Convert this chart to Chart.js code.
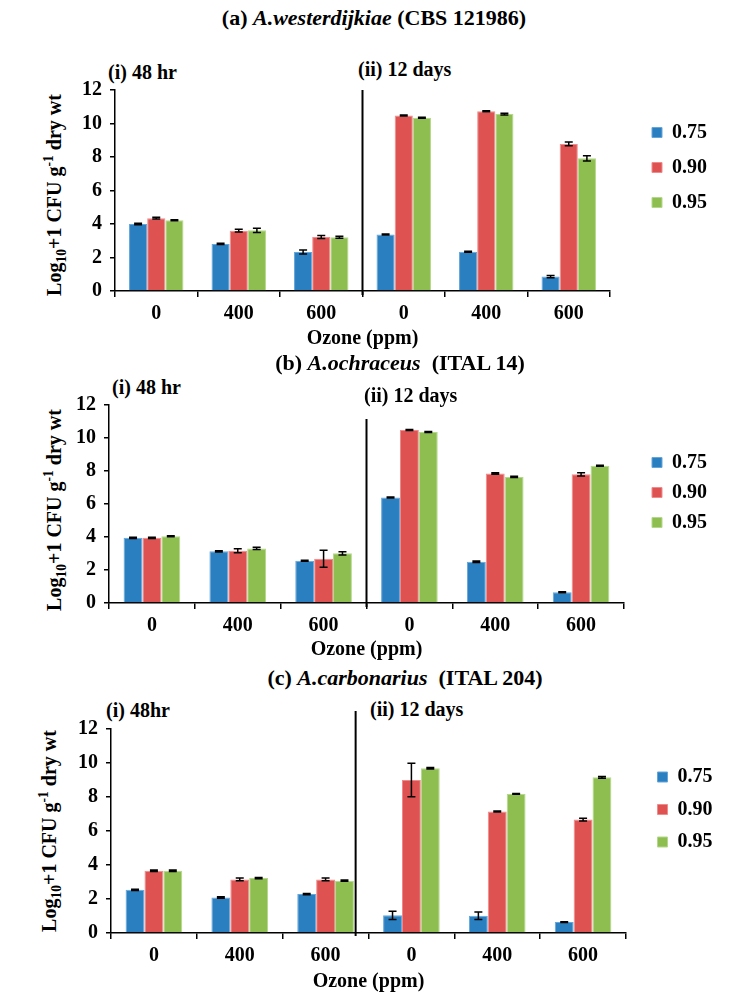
<!DOCTYPE html>
<html>
<head>
<meta charset="utf-8">
<script src="https://cdn.jsdelivr.net/npm/chart.js@4.4.1/dist/chart.umd.min.js"></script>
<style>
  body { margin: 0; background: #fff; }
  #page { position: relative; width: 744px; height: 1002px; overflow: hidden;
          font-family: "Liberation Serif", "Times New Roman", serif; font-weight: bold; color: #000; }
  #page canvas { position: absolute; left: 0; }
  .ptitle { position: absolute; font-size: 22px; line-height: 26px; white-space: nowrap; transform: translateX(-50%); }
  .sub { position: absolute; font-size: 20px; line-height: 24px; white-space: nowrap; }
  .ytitle { position: absolute; width: 260px; font-size: 20px; line-height: 24px; text-align: center;
            white-space: nowrap; transform: rotate(-90deg); }
  .ytitle sub, .ytitle sup { font-size: 0.68em; line-height: 0; }
</style>
</head>
<body>
<div id="page">
  <div class="ptitle" style="left:374px;top:5px">(a) <i>A.westerdijkiae</i> (CBS 121986)</div>
  <div class="sub" style="left:108px;top:60px">(i) 48 hr</div>
  <div class="sub" style="left:358px;top:57px">(ii) 12 days</div>
  <div class="ytitle" style="left:-76px;top:183px">Log<sub>10</sub>+1 CFU g<sup>-1</sup> dry wt</div>
  <canvas id="chartA" width="744" height="281" style="top:70px"></canvas>

  <div class="ptitle" style="left:400px;top:350px">(b) <i>A.ochraceus</i>&nbsp; (ITAL 14)</div>
  <div class="sub" style="left:112px;top:375px">(i) 48 hr</div>
  <div class="sub" style="left:364px;top:383px">(ii) 12 days</div>
  <div class="ytitle" style="left:-76px;top:498px">Log<sub>10</sub>+1 CFU g<sup>-1</sup> dry wt</div>
  <canvas id="chartB" width="744" height="277" style="top:385px"></canvas>

  <div class="ptitle" style="left:405px;top:665px">(c) <i>A.carbonarius</i>&nbsp; (ITAL 204)</div>
  <div class="sub" style="left:106px;top:698px">(i) 48hr</div>
  <div class="sub" style="left:370px;top:697px">(ii) 12 days</div>
  <div class="ytitle" style="left:-81px;top:819px">Log<sub>10</sub>+1 CFU g<sup>-1</sup> dry wt</div>
  <canvas id="chartC" width="744" height="289" style="top:705px"></canvas>
</div>

<script>
// x categories: ozone dose, first three after 48 hr, last three after 12 days
const categories = ['0', '400', '600', '0', '400', '600'];
// water activity levels
const seriesNames = ['0.75', '0.90', '0.95'];
const yTicks = [0, 2, 4, 6, 8, 10, 12];

// (a) A.westerdijkiae
const aw075 = [4.00, 2.81, 2.33, 3.37, 2.35, 0.86];
const aw090 = [4.35, 3.60, 3.22, 10.48, 10.73, 8.78];
const aw095 = [4.22, 3.62, 3.21, 10.34, 10.56, 7.92];
const aw075Err = [0.04, 0.04, 0.12, 0.03, 0.03, 0.07];
const aw090Err = [0.05, 0.08, 0.09, 0.03, 0.03, 0.11];
const aw095Err = [0.03, 0.12, 0.06, 0.03, 0.05, 0.16];

// (b) A.ochraceus
const ao075 = [3.95, 3.13, 2.56, 6.40, 2.50, 0.65];
const ao090 = [3.95, 3.17, 2.68, 10.49, 7.85, 7.80];
const ao095 = [4.04, 3.31, 3.01, 10.37, 7.64, 8.32];
const ao075Err = [0.04, 0.04, 0.03, 0.03, 0.04, 0.03];
const ao090Err = [0.04, 0.12, 0.52, 0.03, 0.04, 0.10];
const ao095Err = [0.03, 0.07, 0.10, 0.03, 0.04, 0.03];

// (c) A.carbonarius
const ac075 = [2.54, 2.09, 2.29, 1.04, 1.02, 0.64];
const ac090 = [3.66, 3.15, 3.15, 9.00, 7.15, 6.67];
const ac095 = [3.66, 3.23, 3.08, 9.69, 8.18, 9.16];
const ac075Err = [0.04, 0.04, 0.04, 0.24, 0.22, 0.02];
const ac090Err = [0.04, 0.08, 0.08, 0.98, 0.03, 0.08];
const ac095Err = [0.04, 0.04, 0.04, 0.05, 0.02, 0.05];

const barColors = ['#2A7FC1', '#DE5252', '#8DBE4F'];
const barEdges = ['#64A6DA', '#F08B8B', '#B4D88B'];

Chart.defaults.font.family = '"Liberation Serif", "Times New Roman", serif';
Chart.defaults.font.weight = 'bold';
Chart.defaults.color = '#000';

// symmetric error bars on top of each bar
const errorBarPlugin = {
    id: 'errorBars',
    afterDatasetsDraw(chart, args, opts) {
        const ctx = chart.ctx;
        const yScale = chart.scales.y;
        ctx.save();
        ctx.strokeStyle = '#000';
        ctx.lineWidth = 1.5;
        chart.data.datasets.forEach(function (ds, d) {
            const meta = chart.getDatasetMeta(d);
            meta.data.forEach(function (bar, i) {
                const v = ds.data[i];
                const e = opts.errors[d][i];
                const yHi = yScale.getPixelForValue(v + e);
                const yLo = yScale.getPixelForValue(v - e);
                ctx.beginPath();
                ctx.moveTo(bar.x, yHi);
                ctx.lineTo(bar.x, yLo);
                ctx.moveTo(bar.x - 4, yHi);
                ctx.lineTo(bar.x + 4, yHi);
                ctx.moveTo(bar.x - 4, yLo);
                ctx.lineTo(bar.x + 4, yLo);
                ctx.stroke();
            });
        });
        ctx.restore();
    }
};

// vertical line separating the 48 hr and 12 day groups
const dividerPlugin = {
    id: 'divider',
    afterDatasetsDraw(chart, args, opts) {
        const xs = chart.scales.x;
        const p2 = xs.getPixelForValue(2);
        const p3 = xs.getPixelForValue(3);
        const x = p2 + (opts.at - 2) * (p3 - p2);
        const area = chart.chartArea;
        const ctx = chart.ctx;
        ctx.save();
        ctx.strokeStyle = '#000';
        ctx.lineWidth = 2;
        ctx.beginPath();
        ctx.moveTo(x, area.top + opts.top);
        ctx.lineTo(x, area.bottom + opts.bottom);
        ctx.stroke();
        ctx.restore();
    }
};

function makePanel(canvasId, values, errors, cfg) {
    const canvas = document.getElementById(canvasId);

    const datasets = seriesNames.map(function (name, s) {
        return {
            label: name,
            data: values[s],
            backgroundColor: barColors[s],
            borderColor: barEdges[s],
            borderWidth: 1,
            barPercentage: 1,
            categoryPercentage: 0.66
        };
    });

    return new Chart(canvas, {
        type: 'bar',
        data: { labels: categories, datasets: datasets },
        options: {
            responsive: false,
            animation: false,
            devicePixelRatio: 1,
            layout: { padding: { top: cfg.padTop, left: cfg.padLeft, right: cfg.padRight, bottom: 0 } },
            plugins: {
                legend: {
                    position: 'right',
                    align: 'start',
                    fullSize: false,
                    maxWidth: 70,
                    title: { display: true, text: '', font: { size: 10 }, padding: { top: cfg.legendOffset - 12, bottom: 0 } },
                    labels: {
                        boxWidth: 10,
                        boxHeight: 10,
                        padding: cfg.legendPad,
                        font: { size: 20, weight: 'bold' },
                        color: '#000'
                    }
                },
                tooltip: { enabled: false },
                errorBars: { errors: errors },
                divider: cfg.divider
            },
            scales: {
                x: {
                    grid: { display: true, drawOnChartArea: false, drawTicks: true, tickLength: 6, color: '#000', lineWidth: 1.5 },
                    border: { display: true, color: '#000', width: 1.5 },
                    ticks: { font: { size: 20, weight: 'bold' }, padding: 5, color: '#000', maxRotation: 0 },
                    title: { display: true, text: 'Ozone (ppm)', font: { size: 20, weight: 'bold' }, color: '#000', padding: { top: 0, bottom: 0 } },
                    afterFit: function (scale) { scale.height = cfg.xAxisHeight; }
                },
                y: {
                    min: 0,
                    max: 12,
                    afterBuildTicks: function (scale) {
                        scale.ticks = yTicks.map(function (v) { return { value: v }; });
                    },
                    grid: { display: true, drawOnChartArea: false, drawTicks: true, tickLength: 5, color: '#000', lineWidth: 1.5 },
                    border: { display: true, color: '#000', width: 1.5 },
                    ticks: { font: { size: 20, weight: 'bold' }, padding: 8, color: '#000' },
                    afterFit: function (scale) { scale.width = 40; }
                },
                // empty axis used only as a spacer between the plot and the legend
                gap: {
                    type: 'linear',
                    position: 'right',
                    display: true,
                    grid: { display: false },
                    border: { display: false },
                    ticks: { display: false },
                    afterFit: function (scale) { scale.width = cfg.legendGap; }
                }
            }
        },
        plugins: [errorBarPlugin, dividerPlugin]
    });
}

makePanel('chartA', [aw075, aw090, aw095], [aw075Err, aw090Err, aw095Err], {
    padTop: 14, padLeft: 75, padRight: 37, xAxisHeight: 60,
    legendPad: 15, legendOffset: 17.5, legendGap: 27,
    divider: { at: 2.5, top: 0, bottom: 4 }
});

makePanel('chartB', [ao075, ao090, ao095], [ao075Err, ao090Err, ao095Err], {
    padTop: 14, padLeft: 69, padRight: 32, xAxisHeight: 59,
    legendPad: 10, legendOffset: 37.5, legendGap: 18,
    divider: { at: 2.5, top: 14, bottom: 4 }
});

makePanel('chartC', [ac075, ac090, ac095], [ac075Err, ac090Err, ac095Err], {
    padTop: 24, padLeft: 71, padRight: 29, xAxisHeight: 61,
    legendPad: 12.5, legendOffset: 25.5, legendGap: 19,
    divider: { at: 2.35, top: -18, bottom: 3 }
});
</script>
</body>
</html>
